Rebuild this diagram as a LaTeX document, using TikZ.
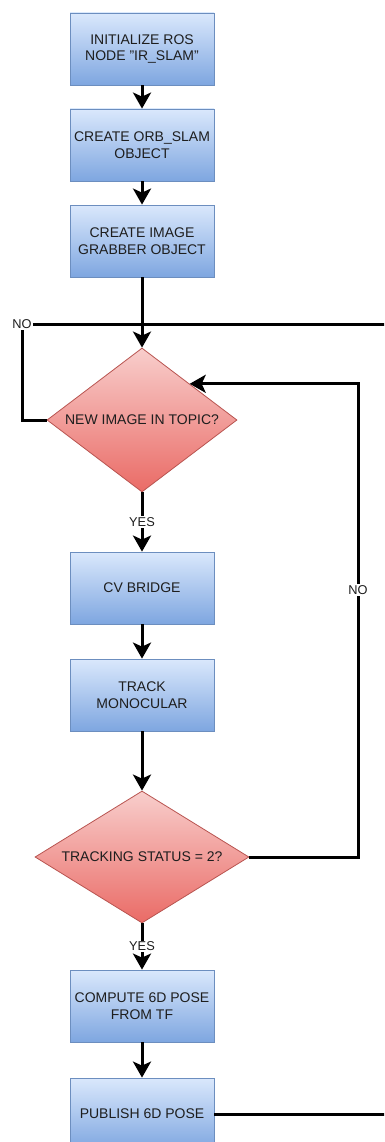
\documentclass[tikz,border=0pt]{standalone}
\usepackage{fontspec}
\setmainfont{Liberation Sans}
\usetikzlibrary{arrows.meta,shapes.geometric}

\definecolor{boxtop}{HTML}{DAE8FC}
\definecolor{boxbot}{HTML}{7EA6E0}
\definecolor{boxline}{HTML}{6C8EBF}
\definecolor{dectop}{HTML}{F8CECC}
\definecolor{decbot}{HTML}{EA6B66}
\definecolor{decline}{HTML}{B85450}
\definecolor{txt}{HTML}{1E1E1E}

\begin{document}
\begin{tikzpicture}[x=1pt, y=1pt, line join=miter,
		font=\fontsize{14}{16.5}\selectfont, text=txt,
		>={Stealth[length=16pt, width=18pt, inset=4pt]},
		flow/.style={line width=3pt, ->},
		wire/.style={line width=3pt},
		box/.style={rectangle, draw=boxline, line width=0.8pt, top color=boxtop, bottom color=boxbot,
			minimum width=144, minimum height=72, inner sep=0pt, align=center},
		decision/.style={diamond, draw=decline, line width=0.8pt, top color=dectop, bottom color=decbot,
			inner sep=0pt, align=center},
		lbl/.style={fill=white, inner sep=1pt, font=\fontsize{12.8}{14}\selectfont}]
			\useasboundingbox (0,0) rectangle (384,-1142);
			\clip (0,0) rectangle (384,-1142);
			
			% Start-up steps
			\node[box] (init) at (142,-49) {INITIALIZE ROS\\NODE "IR\_SLAM"};
			\node[box] (orb) at (142,-145) {CREATE ORB\_SLAM\\OBJECT};
			\node[box] (grab) at (142,-241) {CREATE IMAGE\\GRABBER OBJECT};
			
			% Wait for an image
			\node[decision, aspect=1.32, minimum width=190, minimum height=144] (newimg) at (142,-420) {NEW IMAGE IN TOPIC?};
			
			% Processing steps
			\node[box] (cvb) at (142,-588) {CV BRIDGE};
			\node[box] (track) at (142,-695) {TRACK\\MONOCULAR};
			\node[decision, aspect=1.62, minimum width=214, minimum height=132] (tstat) at (142,-857) {TRACKING STATUS = 2?};
			\node[box] (pose) at (142,-1006) {COMPUTE 6D POSE\\FROM TF};
			\node[box] (pub) at (142,-1114) {PUBLISH 6D POSE};
			
			% Corners and loose ends of the loops
			\coordinate (exitA) at (400,-324);
			\coordinate (exitB) at (400,-1114);
			\coordinate (loopR) at (358,-857);
			
			% Straight arrows down the chart
			\draw[flow] (init) -- (orb);
			\draw[flow] (orb) -- (grab);
			\draw[flow] (grab) -- (newimg);
			\draw[flow] (newimg) -- node[lbl] {YES} (cvb);
			\draw[flow] (cvb) -- (track);
			\draw[flow] (track) -- (tstat);
			\draw[flow] (tstat) -- node[lbl] {YES} (pose);
			\draw[flow] (pose) -- (pub);
			
			% No image: back round the top
			\node[lbl] (noA) at (22,-324) {NO};
			\draw[wire] (newimg.west) -| (noA);
			\draw[wire] (noA) -- (exitA);
			
			% Tracking lost: back to the image check
			\draw[flow] (tstat.east) -- (loopR) |- (newimg.north east);
			\node[lbl] (noB) at (358,-590) {NO};
			
			% Pose published
			\draw[wire] (pub) -- (exitB);
\end{tikzpicture}
\end{document}
